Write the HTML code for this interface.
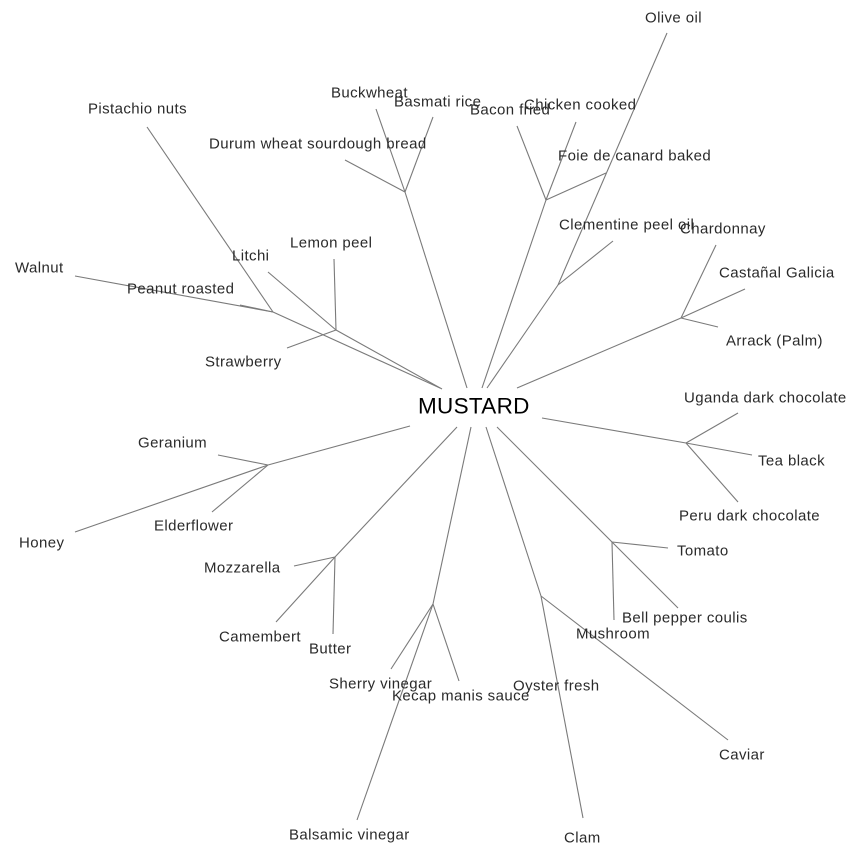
<!DOCTYPE html>
<html><head><meta charset="utf-8"><style>
html,body{margin:0;padding:0;background:#fff;}
svg{display:block;}
text{font-family:"Liberation Sans",Arial,sans-serif;font-size:15px;letter-spacing:0.4px;fill:#2a2a2a;dominant-baseline:central;}
line{stroke:#7a7a7a;stroke-width:1.1;}
</style></head><body>
<svg width="864" height="858" viewBox="0 0 864 858" xmlns="http://www.w3.org/2000/svg">
<line x1="273" y1="312" x2="147" y2="127"/>
<line x1="273" y1="312" x2="75" y2="276"/>
<line x1="273" y1="312" x2="240" y2="305"/>
<line x1="273" y1="312" x2="440" y2="388"/>
<line x1="336" y1="330" x2="334" y2="259"/>
<line x1="336" y1="330" x2="268" y2="272"/>
<line x1="336" y1="330" x2="287" y2="348"/>
<line x1="336" y1="330" x2="442" y2="389"/>
<line x1="405" y1="192" x2="376" y2="109"/>
<line x1="405" y1="192" x2="433" y2="117"/>
<line x1="405" y1="192" x2="345" y2="160"/>
<line x1="405" y1="192" x2="467" y2="388"/>
<line x1="546" y1="200" x2="517" y2="126"/>
<line x1="546" y1="200" x2="576" y2="122"/>
<line x1="546" y1="200" x2="606" y2="173"/>
<line x1="546" y1="200" x2="482" y2="388"/>
<line x1="558" y1="285" x2="667" y2="33"/>
<line x1="558" y1="285" x2="613" y2="241"/>
<line x1="558" y1="285" x2="487" y2="388"/>
<line x1="681" y1="318" x2="716" y2="245"/>
<line x1="681" y1="318" x2="745" y2="289"/>
<line x1="681" y1="318" x2="718" y2="327"/>
<line x1="681" y1="318" x2="517" y2="388"/>
<line x1="686" y1="443" x2="738" y2="413"/>
<line x1="686" y1="443" x2="752" y2="455"/>
<line x1="686" y1="443" x2="738" y2="502"/>
<line x1="686" y1="443" x2="542" y2="418"/>
<line x1="268" y1="465" x2="218" y2="455"/>
<line x1="268" y1="465" x2="75" y2="532"/>
<line x1="268" y1="465" x2="212" y2="512"/>
<line x1="268" y1="465" x2="410" y2="426"/>
<line x1="335" y1="557" x2="294" y2="566"/>
<line x1="335" y1="557" x2="276" y2="622"/>
<line x1="335" y1="557" x2="333" y2="634"/>
<line x1="335" y1="557" x2="457" y2="427"/>
<line x1="433" y1="604" x2="391" y2="669"/>
<line x1="433" y1="604" x2="459" y2="681"/>
<line x1="433" y1="604" x2="357" y2="820"/>
<line x1="433" y1="604" x2="471" y2="427"/>
<line x1="541" y1="596" x2="583" y2="818"/>
<line x1="541" y1="596" x2="728" y2="740"/>
<line x1="541" y1="596" x2="486" y2="427"/>
<line x1="612" y1="542" x2="668" y2="548"/>
<line x1="612" y1="542" x2="678" y2="608"/>
<line x1="612" y1="542" x2="614" y2="620"/>
<line x1="612" y1="542" x2="497" y2="427"/>
<text x="645" y="18">Olive oil</text>
<text x="88" y="109">Pistachio nuts</text>
<text x="331" y="93">Buckwheat</text>
<text x="394" y="102">Basmati rice</text>
<text x="470" y="110">Bacon fried</text>
<text x="524" y="105">Chicken cooked</text>
<text x="209" y="144">Durum wheat sourdough bread</text>
<text x="558" y="156">Foie de canard baked</text>
<text x="559" y="225">Clementine peel oil</text>
<text x="680" y="229">Chardonnay</text>
<text x="232" y="256">Litchi</text>
<text x="290" y="243">Lemon peel</text>
<text x="15" y="268">Walnut</text>
<text x="719" y="273">Castañal Galicia</text>
<text x="127" y="289">Peanut roasted</text>
<text x="726" y="341">Arrack (Palm)</text>
<text x="205" y="362">Strawberry</text>
<text x="418" y="406" style="font-size:22.5px;letter-spacing:0.3px;fill:#000">MUSTARD</text>
<text x="684" y="398">Uganda dark chocolate</text>
<text x="138" y="443">Geranium</text>
<text x="758" y="461">Tea black</text>
<text x="19" y="543">Honey</text>
<text x="154" y="526">Elderflower</text>
<text x="679" y="516">Peru dark chocolate</text>
<text x="677" y="551">Tomato</text>
<text x="204" y="568">Mozzarella</text>
<text x="622" y="618">Bell pepper coulis</text>
<text x="219" y="637">Camembert</text>
<text x="576" y="634">Mushroom</text>
<text x="309" y="649">Butter</text>
<text x="329" y="684">Sherry vinegar</text>
<text x="392" y="696">Kecap manis sauce</text>
<text x="513" y="686">Oyster fresh</text>
<text x="719" y="755">Caviar</text>
<text x="289" y="835">Balsamic vinegar</text>
<text x="564" y="838">Clam</text>
</svg>
</body></html>
